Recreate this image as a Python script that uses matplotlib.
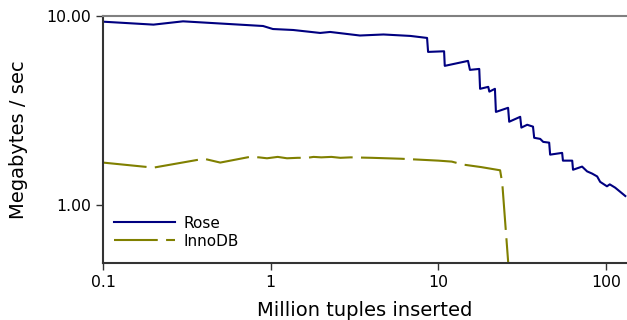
import matplotlib
matplotlib.use("Agg")
import matplotlib.pyplot as plt

# Rose throughput (million tuples inserted, MB/s)
rose_x = [0.1, 0.2, 0.3, 0.9, 1.03, 1.36, 1.97, 2.26, 3.4, 4.7, 6.8, 8.55, 8.67,
          10.8, 10.9, 15.0, 15.4, 17.5, 17.7, 19.8, 20.1, 21.7, 22.0, 26.0, 26.4,
          30.7, 31.2, 33.8, 36.6, 37.2, 40.4, 42.1, 45.7, 46.3, 54.6, 55.2, 62.7,
          63.4, 71.8, 76.9, 82.4, 88.3, 92.0, 101, 105, 113, 121, 130]
rose_y = [9.33, 9.0, 9.37, 8.85, 8.53, 8.43, 8.13, 8.23, 7.88, 7.98, 7.84, 7.65, 6.45,
          6.5, 5.44, 5.78, 5.18, 5.24, 4.11, 4.21, 3.97, 4.11, 3.10, 3.26, 2.75,
          2.92, 2.56, 2.65, 2.59, 2.26, 2.23, 2.15, 2.13, 1.84, 1.88, 1.71, 1.71,
          1.53, 1.59, 1.50, 1.46, 1.41, 1.32, 1.25, 1.28, 1.23, 1.17, 1.11]

# InnoDB throughput
inno_x = [0.1, 0.2, 0.4, 0.5, 0.75, 0.85, 0.95, 1.1, 1.25, 1.45, 1.65, 1.8, 2.0,
          2.3, 2.6, 3.0, 4.0, 6.0, 10, 12, 14, 18, 23.3, 24.0, 25.0, 26.5]
inno_y = [1.67, 1.57, 1.75, 1.67, 1.79, 1.78, 1.76, 1.79, 1.76, 1.77, 1.77, 1.79, 1.78,
          1.79, 1.77, 1.78, 1.77, 1.75, 1.71, 1.69, 1.63, 1.58, 1.52, 1.30, 0.8, 0.4]

xticks = [0.1, 1, 10, 100]
xtick_labels = ["0.1", "1", "10", "100"]
yticks = [1, 10]
ytick_labels = ["1.00", "10.00"]

fig = plt.figure(figsize=(6.27, 3.2), dpi=100)
ax = fig.add_axes([103 / 627, 57 / 320, 524 / 627, 247 / 320])

ax.plot(rose_x, rose_y, color="#000080", lw=1.5, label="Rose")
ax.plot(inno_x, inno_y, color="#808000", lw=1.5, dashes=(21, 4), label="InnoDB")

ax.set_xscale("log")
ax.set_yscale("log")
ax.set_xlim(0.1, 133)
ax.set_ylim(0.49, 10)
ax.minorticks_off()
ax.set_xticks(xticks)
ax.set_xticklabels(xtick_labels)
ax.set_yticks(yticks)
ax.set_yticklabels(ytick_labels)
ax.tick_params(labelsize=11.3, length=5, width=1, color="#333333")

ax.spines["right"].set_visible(False)
ax.spines["top"].set_color("#808080")
ax.spines["top"].set_linewidth(1.5)
for s in ["left", "bottom"]:
    ax.spines[s].set_color("#333333")
    ax.spines[s].set_linewidth(1.5)

ax.set_xlabel("Million tuples inserted", fontsize=14, labelpad=8)
ax.set_ylabel("Megabytes / sec", fontsize=14, labelpad=13)

ax.legend(loc="lower left", frameon=False, fontsize=11, handlelength=4.0,
          handletextpad=0.6, borderaxespad=0.3, labelspacing=0.2,
          bbox_to_anchor=(0, 0.015))

fig.savefig("out.png", dpi=100)
